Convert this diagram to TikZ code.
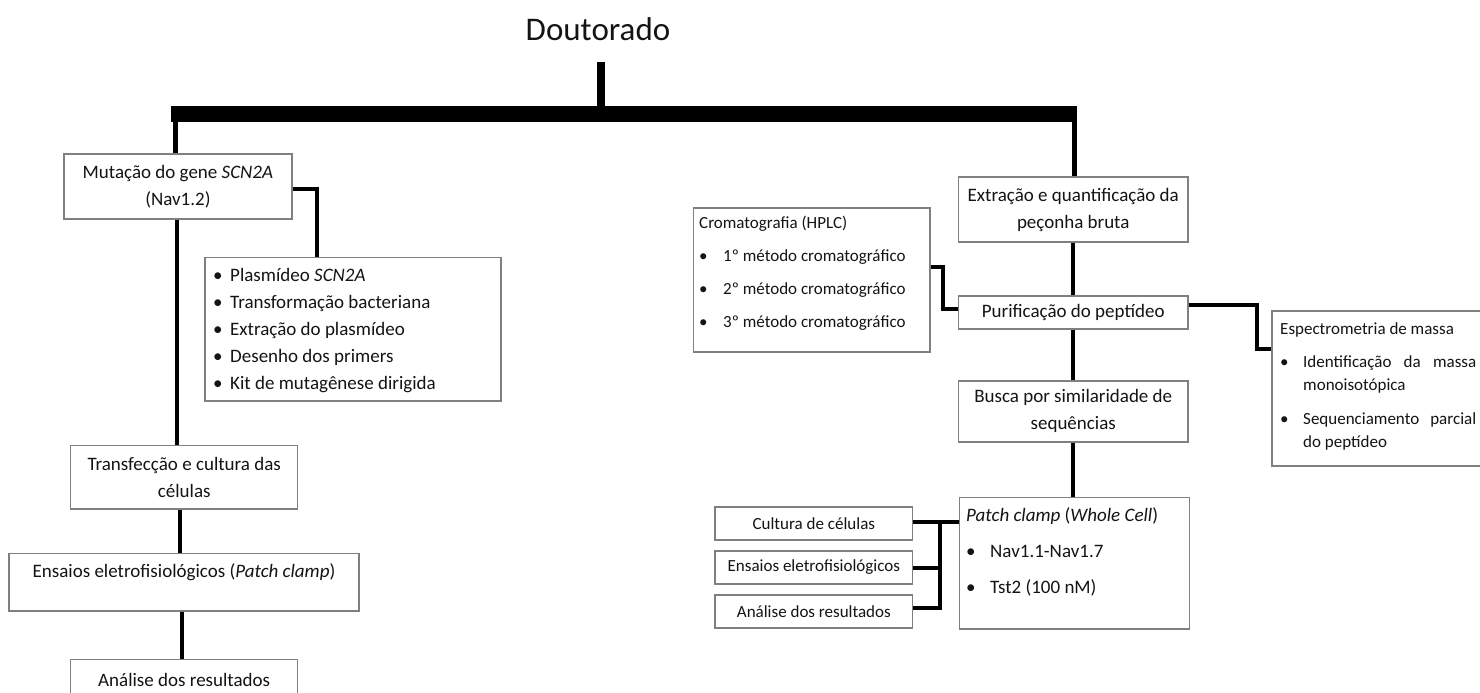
\documentclass[tikz,border=0pt]{standalone}
\usepackage{fontspec}
\setmainfont{Carlito}
\begin{document}
\begin{tikzpicture}[x=1pt,y=-1pt,
  box/.style={draw=black!50, line width=1.5pt, fill=white, inner sep=0pt, text=black!92},
  conn/.style={line width=4pt, draw=black},
  bodyf/.style={font=\fontsize{19}{27}\selectfont},
  smallf/.style={font=\fontsize{17}{22}\selectfont},
  txt/.style={inner sep=0pt, text=black!92, align=left, anchor=north west},
]
\useasboundingbox (0,0) rectangle (1480,693);
\clip (0,0) rectangle (1480,693);

% title
\node[font=\fontsize{33}{40}\selectfont, text=black!92] (title) at (598,29) {Doutorado};

% left column
\node[box, bodyf, align=center, minimum width=227.7, minimum height=65] (mut) at (177.9,186.5) {Mutação do gene \textit{SCN2A}\\(Nav1.2)};
\node[box, minimum width=296, minimum height=143.5, anchor=north west] (plas) at (204,256.7) {};
\node[txt, font=\fontsize{19}{27}\selectfont] (plastxt) at (213,265) {\rule{0pt}{16pt}\makebox[17pt][l]{•}Plasmídeo \textit{SCN2A}\\\makebox[17pt][l]{•}Transformação bacteriana\\\makebox[17pt][l]{•}Extração do plasmídeo\\\makebox[17pt][l]{•}Desenho dos primers\\\makebox[17pt][l]{•}Kit de mutagênese dirigida};
\node[box, bodyf, align=center, minimum width=227, minimum height=63.3] (tra) at (184.2,477.3) {Transfecção e cultura das\\células};
\node[box, minimum width=350, minimum height=57.7] (ens) at (184,582.2) {};
\node[bodyf, text=black!92, inner sep=0pt] (enstxt) at (184,572) {Ensaios eletrofisiológicos (\textit{Patch clamp})};
\node[box, bodyf, minimum width=227, minimum height=42] (ana) at (184.2,680.3) {Análise dos resultados};

% right column
\node[box, bodyf, align=center, minimum width=229.5, minimum height=65] (ext) at (1073.25,209.5) {Extração e quantificação da\\peçonha bruta};
\node[box, bodyf, minimum width=229.5, minimum height=33] (pur) at (1073.25,312.3) {Purificação do peptídeo};
\node[box, bodyf, align=center, minimum width=229.5, minimum height=61.3] (bus) at (1073.25,411.4) {Busca por similaridade de\\sequências};
\node[box, minimum width=230, minimum height=131.3, anchor=north west] (pat) at (958.5,496.7) {};
\node[txt, font=\fontsize{19}{36}\selectfont] (pattxt) at (966,505) {\rule{0pt}{16pt}\textit{Patch clamp} (\textit{Whole Cell})\\\makebox[24pt][l]{•}Nav1.1-Nav1.7\\\makebox[24pt][l]{•}Tst2 (100 nM)};

\node[box, minimum width=236.3, minimum height=144, anchor=north west] (crom) at (692.7,207) {};
\node[txt, font=\fontsize{17}{33}\selectfont] (cromtxt) at (699,214.5) {\rule{0pt}{14pt}Cromatografia (HPLC)\\\makebox[24pt][l]{•}1º método cromatográfico\\\makebox[24pt][l]{•}2º método cromatográfico\\\makebox[24pt][l]{•}3º método cromatográfico};

\node[box, minimum width=240, minimum height=155, anchor=north west] (spec) at (1271,310) {};
\node[txt, font=\fontsize{17}{23}\selectfont] (spectxt) at (1280,320) {\rule{0pt}{14pt}Espectrometria de massa\\[10pt]\makebox[23pt][l]{•}\makebox[173pt][s]{Identificação\hfill da\hfill massa}\\\hspace*{23pt}monoisotópica\\[11pt]\makebox[23pt][l]{•}\makebox[173pt][s]{Sequenciamento\hfill parcial}\\\hspace*{23pt}do peptídeo};

\node[box, smallf, minimum width=197.7, minimum height=33] (s1) at (813.85,523.5) {Cultura de células};
\node[box, smallf, minimum width=197.7, minimum height=33] (s2) at (813.85,567.5) {Ensaios eletrofisiológicos};
\node[box, smallf, minimum width=197.7, minimum height=33] (s3) at (813.85,611.3) {Análise dos resultados};

% connectors
\coordinate (barLend) at (171,114);
\coordinate (barRend) at (1077,114);
\coordinate (barL) at (175,114);
\coordinate (barR) at (1074,114);
\coordinate (stem) at (601,62.3);
\draw[line width=16pt] (barLend) -- (barRend);
\draw[line width=8.3pt] (stem) -- (stem |- barL);
\draw[line width=5pt] (barL) -- (barL |- mut.north);
\draw[line width=5pt] (barR) -- (barR |- ext.north);

\draw[conn] ([xshift=-1pt]mut.south) -- ([xshift=-1pt]mut.south |- tra.north);
\draw[conn] ([xshift=-4pt]tra.south) -- ([xshift=-4pt]tra.south |- ens.north);
\draw[conn] ([xshift=-2.3pt]ens.south) -- ([xshift=-2.3pt]ens.south |- ana.north);
\coordinate (pk) at (316.7,189.3);
\draw[conn] (mut.east |- pk) -| (pk |- plas.north);

\draw[conn] (ext.south) -- (pur.north);
\draw[conn] (pur.south) -- (bus.north);
\draw[conn] (bus.south) -- (bus.south |- pat.north);

\coordinate (cj) at (943,267);
\coordinate (cin) at (943,309);
\draw[conn] (crom.east |- cj) -| (cin) -- (cin -| pur.west);

\coordinate (sk) at (1256.7,305);
\coordinate (sin) at (1256.7,349);
\draw[conn] (pur.east |- sk) -| (sin) -- (sin -| spec.west);

\coordinate (jn) at (940,522);
\coordinate (j3) at (940,608);
\draw[conn] (s1.east |- jn) -- (pat.west |- jn);
\draw[conn] (s2.east) -- (s2.east -| jn);
\draw[conn] (s3.east |- j3) -- (j3) -- (jn);
\end{tikzpicture}
\end{document}
